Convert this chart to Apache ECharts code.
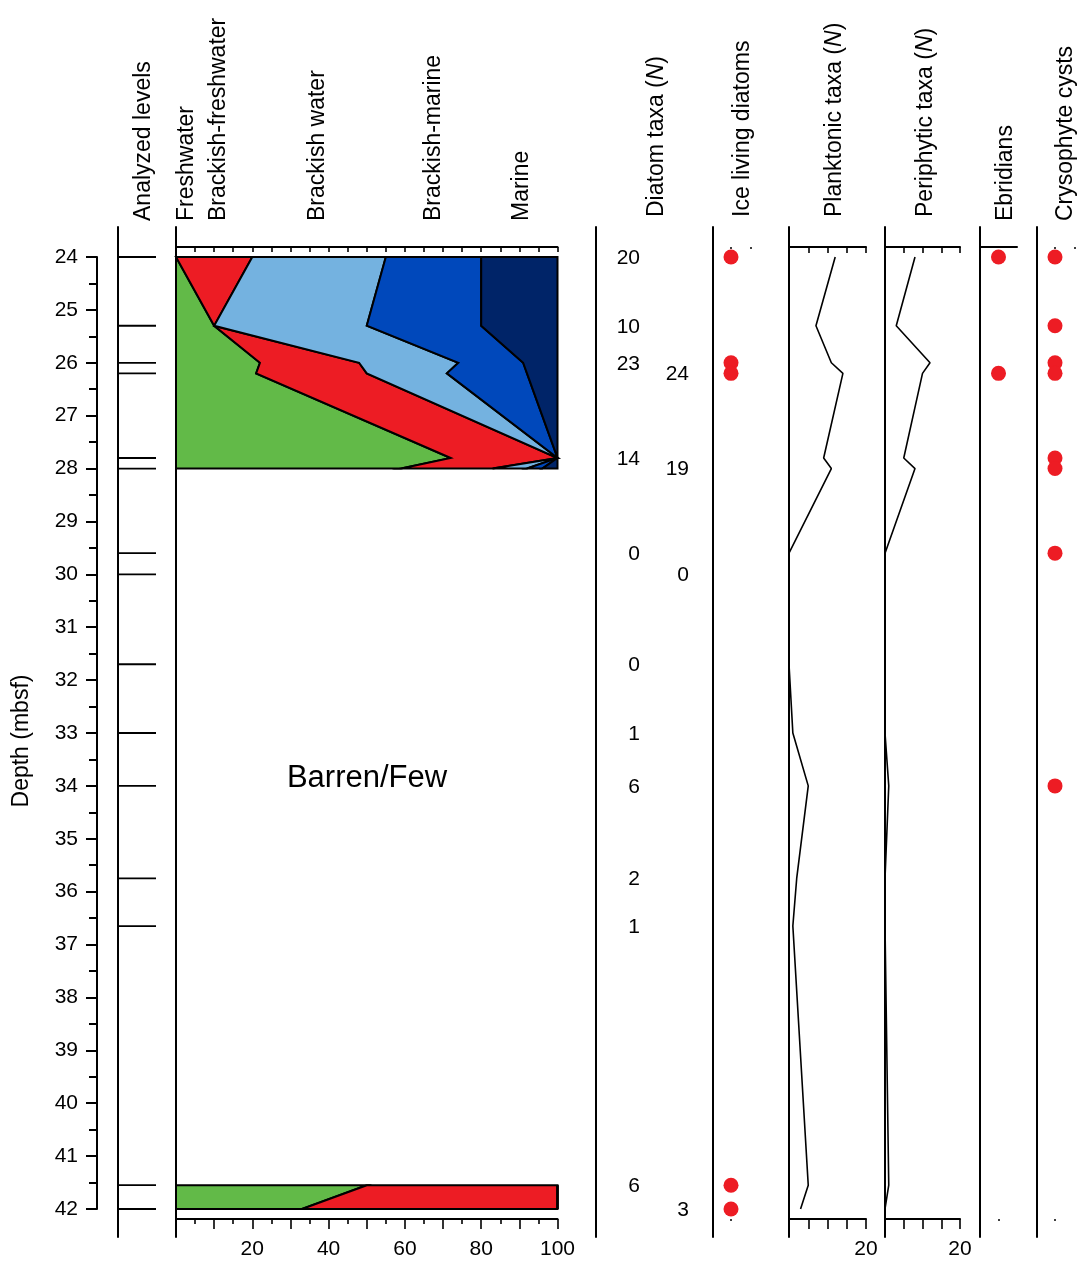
<!DOCTYPE html>
<html>
<head>
<meta charset="utf-8">
<script src="https://cdn.jsdelivr.net/npm/echarts@6/dist/echarts.min.js"></script>
<style>
  html, body { margin: 0; padding: 0; background: #fff; }
  #chart { width: 1087px; height: 1263px; }
</style>
</head>
<body>
<div id="chart"></div>
<script>
// Analysed sample depths (m below sea floor) and diatom counts per level
const levels = [24.0, 25.3, 26.0, 26.2, 27.8, 28.0, 29.6, 30.0, 31.7, 33.0, 34.0, 35.75, 36.65, 41.55, 42.0];
const diatomTaxa = [20, 10, 23, 24, 14, 19, 0, 0, 0, 1, 6, 2, 1, 6, 3];
const planktonicTaxa = [12, 7, 11, 14, 9, 11, 0, 0, 0, 1, 5, 2, 1, 5, 3];
const periphyticTaxa = [8, 3, 12, 10, 5, 8, 0, 0, 0, 0, 1, 0, 0, 1, 0];

// Salinity groups (%), only where enough valves were counted
const pctDepths   = [24.0, 25.3, 26.0, 26.2, 27.8, 28.0, 41.55, 42.0];
const pctInterval = [0, 0, 0, 0, 0, 0, 1, 1];
const freshwater          = [0, 10, 22, 21, 72, 59, 50, 33];
const brackishFreshwater  = [20, 0, 26, 29, 28, 24, 50, 67];
const brackishWater       = [35, 40, 26, 21, 0, 9, 0, 0];
const brackishMarine      = [25, 30, 17, 21, 0, 4, 0, 0];
const marine              = [20, 20, 9, 8, 0, 4, 0, 0];
const groupNames = ['Freshwater', 'Brackish-freshwater', 'Brackish water', 'Brackish-marine', 'Marine'];
const groupColors = ['#62BA48', '#ED1C24', '#74B2E0', '#0048BB', '#002468'];

// Presence records
const iceLivingDepths  = [24.0, 26.0, 26.2, 41.55, 42.0];
const ebridianDepths   = [24.0, 26.2];
const crysophyteDepths = [24.0, 25.3, 26.0, 26.2, 27.8, 28.0, 29.6, 34.0];

const FONT = '"Liberation Sans", Arial, Helvetica, sans-serif';
const DEPTH_MIN = 24, DEPTH_MAX = 42;
const PLOT_TOP = 257, PLOT_H = 952;
const FRAME_TOP = 227, FRAME_H = 1010;
const RED = '#ED1C24';

const groups = [freshwater, brackishFreshwater, brackishWater, brackishMarine, marine];
// cumulative boundaries: cum[b] is the left edge of group b
const cum = [pctDepths.map(() => 0)];
groups.forEach((g, b) => cum.push(cum[b].map((v, i) => v + g[i])));

const chart = echarts.init(document.getElementById('chart'), null, { renderer: 'canvas' });

const grids = [];
const xAxes = [];
const yAxes = [];

function addGrid(g) { grids.push(g); return grids.length - 1; }
function depthY(gridIndex, extra) {
  yAxes.push(Object.assign({
    gridIndex, type: 'value', min: DEPTH_MIN, max: DEPTH_MAX, inverse: true, show: false
  }, extra || {}));
  return yAxes.length - 1;
}
function addX(cfg) { xAxes.push(cfg); return xAxes.length - 1; }
const lineBlack = (w) => ({ color: '#000', width: w });

// --- depth axis ---
const gDepth = addGrid({ left: 97, top: PLOT_TOP, width: 10, height: PLOT_H });
addX({ gridIndex: gDepth, type: 'value', show: false, min: 0, max: 1 });
depthY(gDepth, {
  show: true, interval: 1, position: 'left',
  axisLine: { show: true, lineStyle: lineBlack(2) },
  axisTick: { show: true, length: 11, lineStyle: lineBlack(2) },
  minorTick: { show: true, splitNumber: 2, length: 8, lineStyle: lineBlack(2) },
  axisLabel: { fontSize: 21, color: '#000', margin: 19, fontFamily: FONT },
  splitLine: { show: false }, minorSplitLine: { show: false }
});

// --- analysed levels ---
const gLev = addGrid({ left: 118, top: PLOT_TOP, width: 38, height: PLOT_H });
const xLev = addX({ gridIndex: gLev, type: 'value', show: false, min: 0, max: 1 });
const yLev = depthY(gLev);

// --- salinity percentages ---
const gPct = addGrid({ left: 176, top: PLOT_TOP, width: 381.5, height: PLOT_H });
const xPct = addX({
  gridIndex: gPct, type: 'value', position: 'bottom', offset: 10, min: 0, max: 100, interval: 10,
  axisLine: { show: true, lineStyle: lineBlack(2) },
  axisTick: { show: true, length: 10, lineStyle: lineBlack(1.6) },
  minorTick: { show: true, splitNumber: 2, length: 5, lineStyle: lineBlack(1.6) },
  axisLabel: { fontSize: 21, color: '#000', margin: 20, fontFamily: FONT,
    formatter: v => (v > 0 && v % 20 === 0) ? String(v) : '' },
  splitLine: { show: false }, minorSplitLine: { show: false }
});
addX({
  gridIndex: gPct, type: 'value', position: 'top', offset: 10, min: 0, max: 100, interval: 5,
  axisLine: { show: true, lineStyle: lineBlack(2) },
  axisTick: { show: true, inside: true, length: 5, lineStyle: lineBlack(1.6) },
  axisLabel: { show: false }, splitLine: { show: false }
});
const yPct = depthY(gPct);

// --- diatom taxa counts (text, right-aligned in two staggered columns) ---
const gN = addGrid({ left: 640, top: PLOT_TOP, width: 49, height: PLOT_H });
const xN = addX({ gridIndex: gN, type: 'value', show: false, min: 0, max: 1 });
const yN = depthY(gN);

// helper for presence panels: tiny tick remnants at the top and bottom
function presencePanel(left) {
  const gi = addGrid({ left, top: PLOT_TOP, width: 20, height: PLOT_H });
  const xi = addX({
    gridIndex: gi, type: 'value', position: 'top', offset: 10, min: 0, max: 1, interval: 1,
    axisLine: { show: false },
    axisTick: { show: true, inside: true, length: 2, lineStyle: lineBlack(1.5) },
    axisLabel: { show: false }, splitLine: { show: false }
  });
  addX({
    gridIndex: gi, type: 'value', position: 'bottom', offset: 10, min: 0, max: 1, interval: 1,
    axisLine: { show: false },
    axisTick: { show: true, length: 2, customValues: [0], lineStyle: lineBlack(1.5) },
    axisLabel: { show: false }, splitLine: { show: false }
  });
  const yi = depthY(gi);
  return { xi, yi };
}

// --- ice living diatoms ---
const ice = presencePanel(731);

// helper for count panels (planktonic / periphytic)
function countPanel(left, width) {
  const gi = addGrid({ left, top: PLOT_TOP, width, height: PLOT_H });
  const xi = addX({
    gridIndex: gi, type: 'value', position: 'bottom', offset: 10, min: 0, max: 20, interval: 5,
    axisLine: { show: true, lineStyle: lineBlack(2) },
    axisTick: { show: true, length: 10, lineStyle: lineBlack(1.6) },
    axisLabel: { fontSize: 21, color: '#000', margin: 20, fontFamily: FONT,
      formatter: v => v === 20 ? '20' : '' },
    splitLine: { show: false }
  });
  addX({
    gridIndex: gi, type: 'value', position: 'top', offset: 10, min: 0, max: 20, interval: 5,
    axisLine: { show: true, lineStyle: lineBlack(2) },
    axisTick: { show: true, inside: true, length: 6, lineStyle: lineBlack(1.6) },
    axisLabel: { show: false }, splitLine: { show: false }
  });
  const yi = depthY(gi);
  return { xi, yi };
}
const plank = countPanel(789, 77);
const peri = countPanel(885, 75);

// --- ebridians ---
const gEbr = addGrid({ left: 980, top: PLOT_TOP, width: 37, height: PLOT_H });
const xEbr = addX({
  gridIndex: gEbr, type: 'category', data: ['present'], position: 'top', offset: 10,
  axisLine: { show: true, lineStyle: lineBlack(2) },
  axisTick: { show: false }, axisLabel: { show: false }, splitLine: { show: false }
});
addX({
  gridIndex: gEbr, type: 'category', data: ['present'], position: 'bottom', offset: 10,
  axisLine: { show: false },
  axisTick: { show: true, alignWithLabel: true, length: 2, lineStyle: lineBlack(1.5) },
  axisLabel: { show: false }, splitLine: { show: false }
});
const yEbr = depthY(gEbr);

// --- crysophyte cysts ---
const crys = presencePanel(1055);

// --- panel frame lines ---
[118, 176, 596, 713, 789, 885, 980, 1037].forEach(x => {
  const gi = addGrid({ left: x, top: FRAME_TOP, width: 1, height: FRAME_H });
  addX({ gridIndex: gi, type: 'value', show: false, min: 0, max: 1 });
  yAxes.push({
    gridIndex: gi, type: 'value', min: 0, max: 1, position: 'left',
    axisLine: { show: true, lineStyle: lineBlack(2) },
    axisTick: { show: false }, axisLabel: { show: false }, splitLine: { show: false }
  });
});

// column for the count labels: close pairs of levels are staggered
const nColumn = levels.map((d, i) => (i > 0 && d - levels[i - 1] < 0.5) ? 1 : 0);

const dotStyle = { color: RED, opacity: 1 };

const series = [
  {
    type: 'custom', name: 'Analyzed levels', xAxisIndex: xLev, yAxisIndex: yLev,
    data: levels.map(d => [0, d]),
    renderItem: (params, api) => {
      const a = api.coord([0, api.value(1)]);
      const b = api.coord([1, api.value(1)]);
      return { type: 'line', shape: { x1: a[0], y1: a[1], x2: b[0], y2: b[1] },
               style: { stroke: '#000', lineWidth: 1.8 } };
    }
  },
  {
    type: 'custom', name: 'Salinity groups', xAxisIndex: xPct, yAxisIndex: yPct,
    data: (() => {
      const items = [];
      groups.forEach((g, b) => [0, 1].forEach(k => items.push([b, k])));
      return items;
    })(),
    renderItem: (params, api) => {
      const b = api.value(0), k = api.value(1);
      const idx = pctDepths.map((d, i) => i).filter(i => pctInterval[i] === k);
      const leftEdge = idx.map(i => api.coord([cum[b][i], pctDepths[i]]));
      const rightEdge = idx.map(i => api.coord([cum[b + 1][i], pctDepths[i]])).reverse();
      return {
        type: 'polygon', shape: { points: leftEdge.concat(rightEdge) },
        style: { fill: groupColors[b], stroke: '#000', lineWidth: 2, lineJoin: 'miter' }
      };
    }
  },
  {
    type: 'custom', name: 'Diatom taxa (N)', xAxisIndex: xN, yAxisIndex: yN,
    data: levels.map((d, i) => [nColumn[i], d, diatomTaxa[i]]),
    renderItem: (params, api) => {
      const p = api.coord([api.value(0), api.value(1)]);
      return {
        type: 'text', x: p[0], y: p[1] + 1,
        style: { text: String(api.value(2)), fontSize: 21, fontFamily: FONT, fill: '#000',
                 align: 'right', verticalAlign: 'middle',
                 textAlign: 'right', textVerticalAlign: 'middle' }
      };
    }
  },
  {
    type: 'scatter', name: 'Ice living diatoms', xAxisIndex: ice.xi, yAxisIndex: ice.yi,
    data: iceLivingDepths.map(d => [0, d]), symbolSize: 15, clip: false,
    itemStyle: dotStyle
  },
  {
    type: 'line', name: 'Planktonic taxa', xAxisIndex: plank.xi, yAxisIndex: plank.yi,
    data: levels.map((d, i) => [planktonicTaxa[i], d]), showSymbol: false, clip: false,
    lineStyle: { color: '#000', width: 1.6 }, itemStyle: { color: '#000' }
  },
  {
    type: 'line', name: 'Periphytic taxa', xAxisIndex: peri.xi, yAxisIndex: peri.yi,
    data: levels.map((d, i) => [periphyticTaxa[i], d]), showSymbol: false, clip: false,
    lineStyle: { color: '#000', width: 1.6 }, itemStyle: { color: '#000' }
  },
  {
    type: 'scatter', name: 'Ebridians', xAxisIndex: xEbr, yAxisIndex: yEbr,
    data: ebridianDepths.map(d => [0, d]), symbolSize: 15, clip: false,
    itemStyle: dotStyle
  },
  {
    type: 'scatter', name: 'Crysophyte cysts', xAxisIndex: crys.xi, yAxisIndex: crys.yi,
    data: crysophyteDepths.map(d => [0, d]), symbolSize: 15, clip: false,
    itemStyle: dotStyle
  }
];

// Column headings (rotated, reading upwards)
const headings = [
  { text: 'Analyzed levels', x: 144, y: 221 },
  { text: groupNames[0], x: 187, y: 221 },
  { text: groupNames[1], x: 219, y: 221 },
  { text: groupNames[2], x: 318, y: 221 },
  { text: groupNames[3], x: 434, y: 221 },
  { text: groupNames[4], x: 522, y: 221 },
  { text: 'Diatom taxa ({i|N})', x: 657, y: 217 },
  { text: 'Ice living diatoms', x: 743, y: 217 },
  { text: 'Planktonic taxa ({i|N})', x: 835, y: 217 },
  { text: 'Periphytic taxa ({i|N})', x: 926, y: 217 },
  { text: 'Ebridians', x: 1006, y: 221 },
  { text: 'Crysophyte cysts', x: 1066, y: 221 }
];

const graphic = headings.map(h => ({
  type: 'text', x: h.x, y: h.y, rotation: Math.PI / 2,
  style: {
    text: h.text, fontSize: 23, fontFamily: FONT, fill: '#000',
    align: 'left', verticalAlign: 'middle', textAlign: 'left', textVerticalAlign: 'middle',
    rich: { i: { fontSize: 23, fontFamily: FONT, fontStyle: 'italic', fill: '#000' } }
  }
}));
graphic.push({
  type: 'text', x: 22, y: 741, rotation: Math.PI / 2,
  style: { text: 'Depth (mbsf)', fontSize: 23, fontFamily: FONT, fill: '#000',
           align: 'center', verticalAlign: 'middle', textAlign: 'center', textVerticalAlign: 'middle' }
});
graphic.push({
  type: 'text', x: 367, y: 778,
  style: { text: 'Barren/Few', fontSize: 31, fontFamily: FONT, fill: '#000',
           align: 'center', verticalAlign: 'middle', textAlign: 'center', textVerticalAlign: 'middle' }
});

chart.setOption({
  backgroundColor: '#fff',
  animation: false,
  grid: grids,
  xAxis: xAxes,
  yAxis: yAxes,
  series,
  graphic
});
</script>
</body>
</html>
